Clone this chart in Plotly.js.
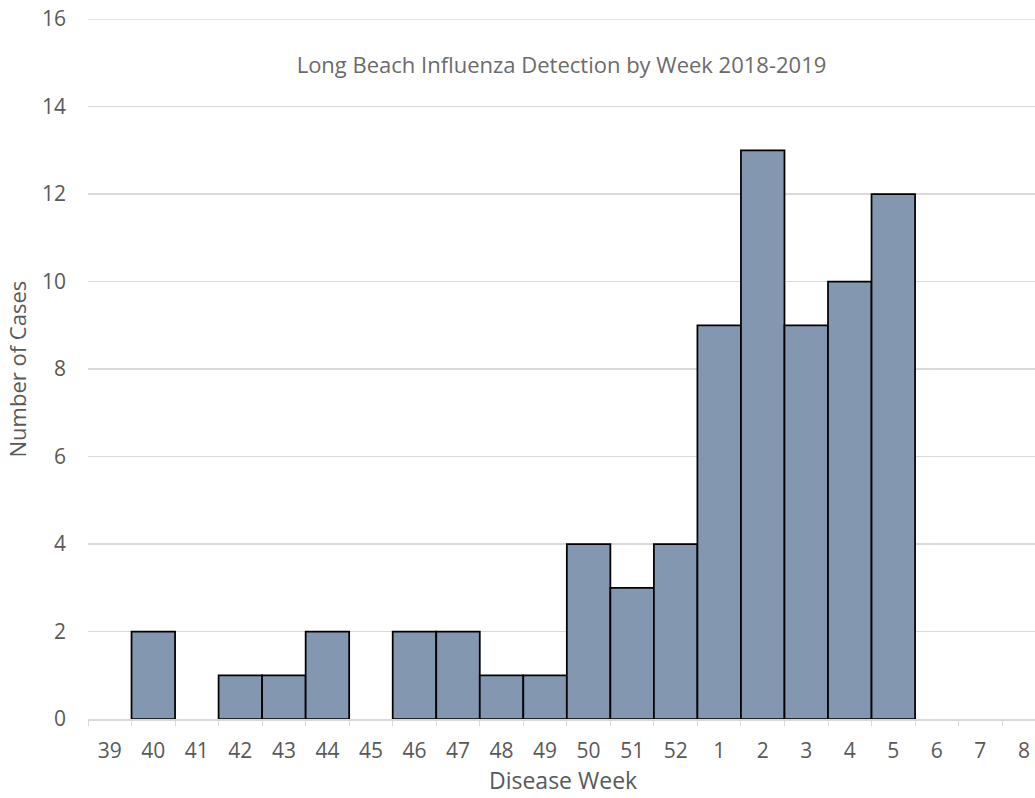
<!DOCTYPE html>
<html>
<head>
<meta charset="utf-8">
<script src="https://cdn.plot.ly/plotly-3.0.1.min.js"></script>
<style>html,body{margin:0;padding:0;overflow:hidden;background:#fff}</style>
</head>
<body>
<div id="chart" style="width:1035px;height:798px"></div>
<script>
var weeks = ['39','40','41','42','43','44','45','46','47','48','49','50','51','52','1','2','3','4','5','6','7','8'];
var cases = [0,2,0,1,1,2,0,2,2,1,1,4,3,4,9,13,9,10,12,0,0,0];
var yTicks = [0,2,4,6,8,10,12,14,16];

var FONT = '"Open Sans", "Liberation Sans", sans-serif';
var TXT = '#595959';

var trace = {
  type: 'bar',
  x: weeks,
  // weeks with no cases get no bar outline
  y: cases.map(function (v) { return v === 0 ? null : v; }),
  marker: {color: '#8497B0', line: {color: '#000000', width: 1.75}},
  hoverinfo: 'x+y'
};

var layout = {
  width: 1035,
  height: 798,
  margin: {l: 88, r: 0, t: 19, b: 79, pad: 0},
  paper_bgcolor: '#ffffff',
  plot_bgcolor: '#ffffff',
  bargap: 0,
  showlegend: false,
  font: {family: FONT, color: TXT, size: 21},
  title: {
    text: 'Long Beach Influenza Detection by Week 2018-2019',
    font: {family: FONT, size: 22, color: '#6b6b6b'},
    xref: 'paper', x: 0.5, xanchor: 'center',
    yref: 'container', y: 1 - 65/798, yanchor: 'middle'
  },
  shapes: [{
    type: 'line', xref: 'paper', x0: 0, x1: 1, yref: 'y', y0: yTicks[yTicks.length - 1], y1: yTicks[yTicks.length - 1],
    line: {color: '#d9d9d9', width: 1.5}, layer: 'below'
  }],
  annotations: [
    {text: 'Disease Week', xref: 'paper', yref: 'paper', x: 0.502, y: -0.0875,
     xanchor: 'center', yanchor: 'middle', showarrow: false,
     font: {family: FONT, size: 23, color: TXT}},
    {text: 'Number of Cases', xref: 'paper', yref: 'paper', x: -0.0745, y: 0.5,
     xanchor: 'center', yanchor: 'middle', textangle: -90, showarrow: false,
     font: {family: FONT, size: 22, color: TXT}}
  ],
  xaxis: {
    type: 'category',
    categoryorder: 'array',
    categoryarray: weeks,
    range: [-0.5, 21.255],
    showgrid: false,
    showline: true,
    linecolor: '#d9d9d9',
    linewidth: 1.5,
    ticks: 'outside',
    tickson: 'boundaries',
    ticklen: 5,
    tickcolor: '#d9d9d9',
    tickwidth: 1,
    ticklabelstandoff: 12,
    tickfont: {family: FONT, size: 21, color: TXT},
    fixedrange: true
  },
  yaxis: {
    range: [0, 16],
    tickmode: 'array',
    tickvals: yTicks,
    ticktext: yTicks.map(String),
    showgrid: true,
    gridcolor: '#d9d9d9',
    gridwidth: 1.5,
    zeroline: false,
    showline: false,
    ticks: '',
    ticklabelstandoff: 21,
    tickfont: {family: FONT, size: 21, color: TXT},
    fixedrange: true
  }
};

Plotly.newPlot('chart', [trace], layout, {displayModeBar: false, staticPlot: true});
</script>
</body>
</html>
